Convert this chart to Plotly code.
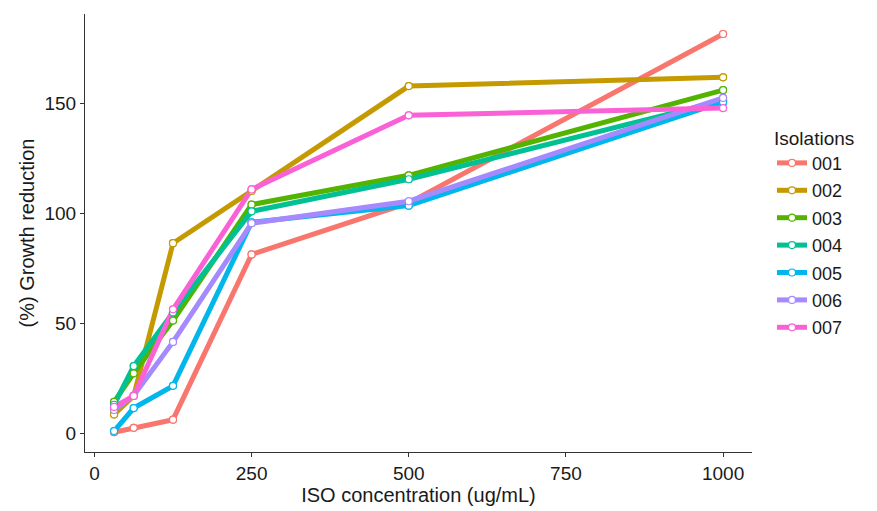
import plotly.graph_objects as go

conc = [31.25, 62.5, 125, 250, 500, 1000]
isolations = ["001", "002", "003", "004", "005", "006", "007"]
colors = ["#F8766D", "#C49A00", "#53B400", "#00C094", "#00B6EB", "#A58AFF", "#FB61D7"]

g001 = [0.5, 2.5, 6.2, 81.4, 104.8, 181.7]
g002 = [8.6, 17.0, 86.5, 110.3, 158.0, 162.0]
g003 = [14.3, 27.3, 51.3, 104.1, 117.4, 156.2]
g004 = [13.0, 30.6, 55.0, 101.0, 115.6, 151.5]
g005 = [1.0, 11.5, 21.6, 96.0, 103.6, 150.8]
g006 = [10.6, 17.2, 41.6, 95.6, 105.6, 152.6]
g007 = [12.0, 17.0, 56.4, 111.0, 144.7, 148.0]
series = [g001, g002, g003, g004, g005, g006, g007]

fig = go.Figure()
for name, col, ys in zip(isolations, colors, series):
    fig.add_trace(go.Scatter(
        x=conc, y=ys, mode="lines+markers", name=name, legendgroup=name,
        line=dict(color=col, width=5),
        marker=dict(color="white", size=7, line=dict(color=col, width=1.2)),
    ))
for name, col, ys in zip(isolations, colors, series):
    fig.add_trace(go.Scatter(
        x=conc, y=ys, mode="markers", name=name, legendgroup=name, showlegend=False,
        marker=dict(color="white", size=7, line=dict(color=col, width=1.2)),
        hoverinfo="skip",
    ))

axis_common = dict(
    showgrid=False, zeroline=False, showline=True, linecolor="#333333", linewidth=1.2,
    ticks="outside", ticklen=4, tickcolor="#333333", tickwidth=1.2,
    tickfont=dict(size=19, color="#1a1a1a", family="Liberation Sans"),
    title_font=dict(size=20, color="#1a1a1a", family="Liberation Sans"),
)
fig.update_xaxes(range=[-15, 1046], tickvals=[0, 250, 500, 750, 1000],
                 title_text="ISO concentration (ug/mL)", title_standoff=2, **axis_common)
fig.update_yaxes(range=[-8.5, 190.8], tickvals=[0, 50, 100, 150],
                 title_text="(%) Growth reduction", title_standoff=4, **axis_common)

fig.update_layout(
    width=877, height=511,
    margin=dict(l=85, r=125, t=14, b=59),
    plot_bgcolor="white", paper_bgcolor="white",
    font=dict(family="Liberation Sans", color="#1a1a1a"),
    legend=dict(
        title=dict(text="Isolations", font=dict(size=19, family="Liberation Sans")),
        font=dict(size=18, family="Liberation Sans"),
        x=1.03, xanchor="left", y=0.5, yanchor="middle",
        tracegroupgap=1, itemwidth=30,
    ),
)

fig.write_html("out.html")
